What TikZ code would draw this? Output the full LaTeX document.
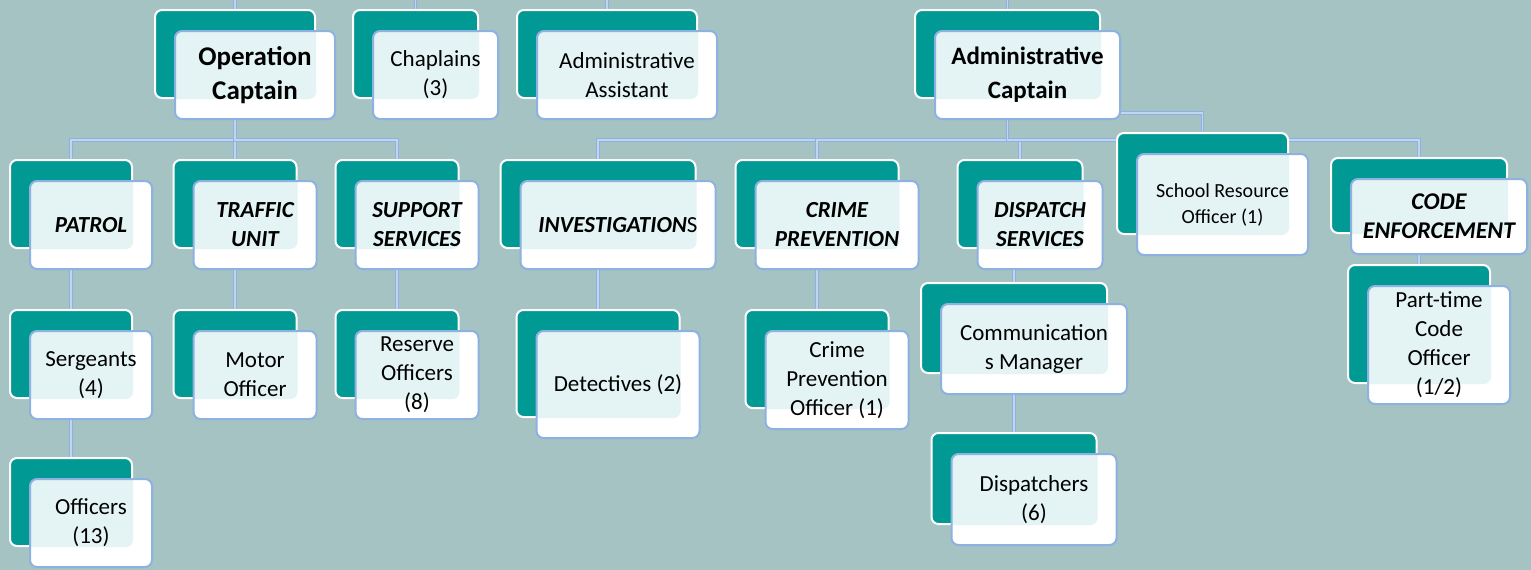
\documentclass[tikz,border=0pt]{standalone}
\usepackage{fontspec}
\setmainfont{Carlito}
\usetikzlibrary{backgrounds}
\pgfdeclarelayer{bgfill}
\pgfdeclarelayer{lines}
\pgfsetlayers{bgfill,lines,main}
\definecolor{bg}{HTML}{A5C3C2}
\definecolor{teal1}{HTML}{009994}
\definecolor{tint}{HTML}{E4F4F4}
\definecolor{edgeblue}{HTML}{8DB1E0}
\definecolor{linelight}{HTML}{C3D4EE}
\newcommand\fs[2]{\fontsize{#1}{#2}\selectfont}
\tikzset{
 backbox/.style={draw=white, line width=2pt, fill=teal1, rounded corners=7pt, inner sep=0pt},
 frontbox/.style={draw=edgeblue, line width=2pt, fill=white,
   rounded corners=7pt, align=center, inner sep=0pt, text=black, font=\fs{23}{29}},
 hd/.style={font=\fs{23}{29}\bfseries\itshape},
 conn/.style={draw=edgeblue, line width=1.1pt, double=linelight, double distance=1.2pt},
}
\newcommand\orgunit[7]{%
 \node[backbox, minimum width=#4pt, minimum height=#5pt] (#1B) at (#2,#3) {};
 \node[frontbox, minimum width=#4pt, minimum height=#5pt,
   path picture={\fill[tint, rounded corners=7pt] (#1B.south west) rectangle (#1B.north east);}, #6]
   (#1) at (#2+20,#3+21) {#7};
}
\begin{document}
\begin{tikzpicture}[x=1pt,y=-1pt]
\useasboundingbox (0,0) rectangle (1531,570);
\begin{pgfonlayer}{bgfill}
\fill[bg] (0,0) rectangle (1531,570);
\end{pgfonlayer}
\coordinate (top) at (0,0);
\coordinate (bus) at (0,140);
\coordinate (sr) at (0,113);
% top row
\orgunit{opcap}{235}{54}{160}{88}{font=\fs{27}{34}\bfseries}{Operation\\Captain}
\orgunit{chap}{415.5}{54}{125}{88}{}{Chaplains\\(3)}
\orgunit{admasst}{607}{54}{180}{88}{}{Administrative\\Assistant}
\orgunit{admcap}{1007.5}{54}{185}{88}{font=\fs{25}{34}\bfseries}{Administrative\\Captain}
% second row
\orgunit{patrol}{71}{204}{122}{88}{hd}{PATROL}
\orgunit{traffic}{235}{204}{123}{88}{hd}{TRAFFIC\\UNIT}
\orgunit{support}{397}{204}{123}{88}{hd}{SUPPORT\\SERVICES}
\orgunit{invest}{598}{204}{195}{88}{hd}{INVESTIGATION{\upshape\mdseries S}}
\orgunit{crime}{817}{204}{163}{88}{hd}{CRIME\\PREVENTION}
\orgunit{dispatch}{1020}{204}{125}{88}{hd}{DISPATCH\\SERVICES}
\orgunit{school}{1202.5}{183.5}{171}{101}{font=\fs{20}{26}}{School Resource\\Officer (1)}
\orgunit{code}{1419}{195.5}{176}{75}{font=\fs{24}{29}\bfseries\itshape}{CODE\\ENFORCEMENT}
% third row
\orgunit{serg}{71}{354}{122}{88}{}{Sergeants\\(4)}
\orgunit{officers}{71}{502}{122}{88}{}{Officers\\(13)}
\orgunit{motor}{235}{354}{123}{88}{}{Motor\\Officer}
\orgunit{reserve}{397}{354}{123}{88}{}{Reserve\\Officers\\(8)}
\orgunit{detect}{598}{363.5}{163}{107}{}{Detectives (2)}
\orgunit{cpo}{817}{359}{143}{98}{}{Crime\\Prevention\\Officer (1)}
\orgunit{comm}{1014}{328}{186}{90}{}{Communication\\s Manager}
\orgunit{disp}{1014}{478.5}{165}{91}{}{Dispatchers\\(6)}
\orgunit{pt}{1419}{324}{142}{118}{}{Part-time\\Code\\Officer\\(1/2)}
% connectors
\begin{pgfonlayer}{lines}
\foreach \n in {opcap,chap,admasst,admcap}{\draw[conn] (\n B.north |- top) -- (\n B.north);}
\foreach \c in {patrol,traffic,support}{\draw[conn] (opcapB.center) -- (opcapB.center |- bus) -| (\c B.north);}
\foreach \c in {invest,crime,dispatch,code}{\draw[conn] (admcapB.center) -- (admcapB.center |- bus) -| (\c B.north);}
\draw[conn] (admcap.east |- sr) -| (schoolB.north);
\draw[conn] (patrolB.center) -- (sergB.north);
\draw[conn] (sergB.center) -- (officersB.north);
\draw[conn] (trafficB.center) -- (motorB.north);
\draw[conn] (supportB.center) -- (reserveB.north);
\draw[conn] (investB.center) -- (detectB.north);
\draw[conn] (crimeB.center) -- (cpoB.north);
\draw[conn] (commB.north |- dispatchB.center) -- (commB.north);
\draw[conn] (commB.center) -- (dispB.north);
\draw[conn] (codeB.center) -- (ptB.north);
\end{pgfonlayer}
\end{tikzpicture}
\end{document}
